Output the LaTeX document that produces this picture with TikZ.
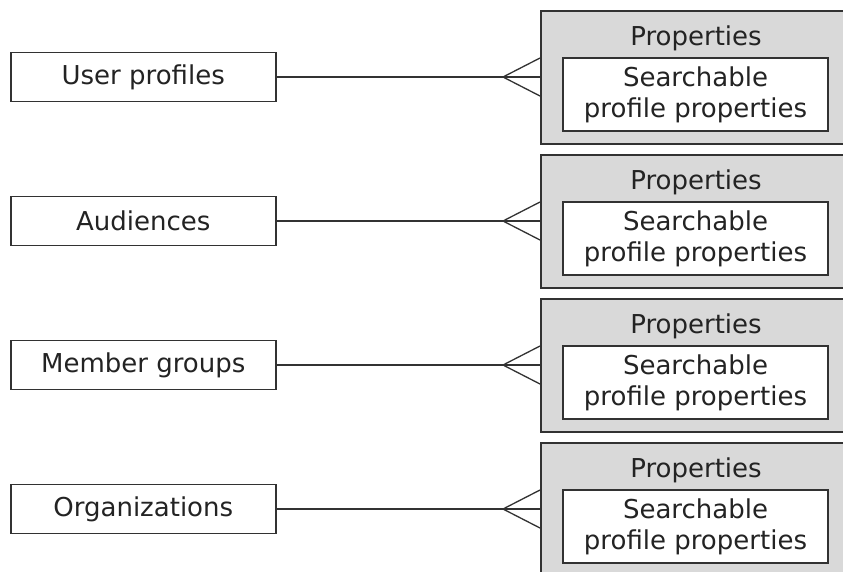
\documentclass[tikz,border=0pt]{standalone}
\usepackage{fontspec}
\setmainfont{DejaVu Sans}
\usetikzlibrary{positioning}
\definecolor{boxgray}{RGB}{217,217,217}
\definecolor{linegray}{RGB}{50,50,50}
\definecolor{textgray}{RGB}{35,35,35}

\begin{document}
\begin{tikzpicture}[x=1pt, y=-1pt,
        entity/.style={draw=linegray, line width=1.5pt, fill=white, text=textgray, minimum width=265pt, minimum height=49pt, inner sep=0pt, anchor=west, font=\fontsize{26}{31}\selectfont},
        group/.style={draw=linegray, line width=1.5pt, fill=boxgray, minimum width=320pt, minimum height=133pt, inner sep=0pt, anchor=north west},
        prop/.style={draw=linegray, line width=1.5pt, fill=white, text=textgray, minimum width=265pt, minimum height=73pt, inner sep=0pt, align=center, font=\fontsize{26}{31}\selectfont},
        link/.style={draw=linegray, line width=1.3pt}]
        \useasboundingbox (0, 0) rectangle (843, 571);

        \foreach \i/\y/\name in {1/77/User profiles, 2/221/Audiences, 3/365/Member groups, 4/509/Organizations} {
            \node[entity] (ent\i) at (10, \y) {\name};
            \node[group] (grp\i) at (540, \y-67) {};
            \node[anchor=base, text=textgray, font=\fontsize{26}{31}\selectfont] (lbl\i) at (696, \y-32) {Properties};
            \node[prop] (srch\i) at (695.5, \y+17.5) {Searchable\\profile properties};

            % crow's foot
            \coordinate (foot\i) at (503, \y);
            \coordinate (up\i) at (540, \y-19);
            \coordinate (dn\i) at (540, \y+19);
            \draw[link] (ent\i.east) -- (ent\i.east -| grp\i.west);
            \draw[link] (up\i) -- (foot\i) -- (dn\i);
        }
    \end{tikzpicture}
\end{document}
